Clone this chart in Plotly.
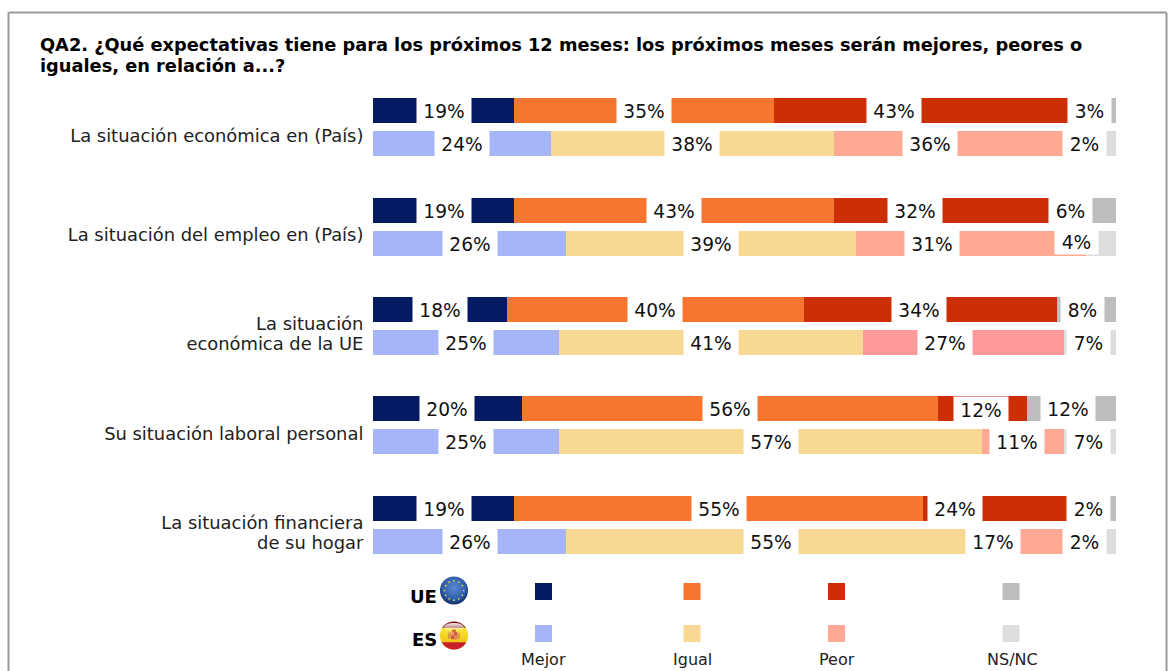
import base64, math
import plotly.graph_objects as go

# ---------- data ----------
TITLE_LINE_1 = "QA2. ¿Qué expectativas tiene para los próximos 12 meses: los próximos meses serán mejores, peores o"
TITLE_LINE_2 = "iguales, en relación a...?"
ROW_LABELS = [["La situación económica en (País)"], ["La situación del empleo en (País)"],
              ["La situación", "económica de la UE"], ["Su situación laboral personal"],
              ["La situación financiera", "de su hogar"]]
ANSWERS = ["Mejor", "Igual", "Peor", "NS/NC"]
EU_MEJOR = [19, 19, 18, 20, 19]
EU_IGUAL = [35, 43, 40, 56, 55]
EU_PEOR = [43, 32, 34, 12, 24]
EU_NSNC = [3, 6, 8, 12, 2]
ES_MEJOR = [24, 26, 25, 25, 26]
ES_IGUAL = [38, 39, 41, 57, 55]
ES_PEOR = [36, 31, 27, 11, 17]
ES_NSNC = [2, 4, 7, 7, 2]

# ---------- style / layout ----------
FONT = "DejaVu Sans, Verdana, sans-serif"
EU_COLORS = ["#061A64", "#F7762F", "#CC2E05", "#BDBDBD"]
ES_COLORS = ["#A6B4F8", "#F8D994", "#FFA894", "#DEDEDE"]
ES_PEOR_ALT = "#FF9A9A"   # third row uses a pinker tone
W, H = 1173, 671
L, R, T, B = 373, 1116, 91, 561
# pixel nudges of the value labels that avoid the chart's right edge
SHIFT_EU_PEOR = [-40, -38, -11.5, -1.5, -57]
SHIFT_ES_PEOR = [-37, -39, -18.5, -6, -45]
SHIFT_EU_NSNC = [-15.5, -23, -4, -3, -20]
SHIFT_ES_NSNC = [-24, -24.5, -2, -1.5, -24]


def px(x):
    return (x - L) / (R - L)


def py(y):
    return 1 - (y - T) / (B - T)


def interleave(a, b):
    out = []
    for u, v in zip(a, b):
        out += [u, v]
    return out


ypos = []
for r in range(5):
    ypos += [3 * r, 3 * r + 1]

fig = go.Figure()
eu = [EU_MEJOR, EU_IGUAL, EU_PEOR, EU_NSNC]
es = [ES_MEJOR, ES_IGUAL, ES_PEOR, ES_NSNC]
for i, name in enumerate(ANSWERS):
    cols = interleave([EU_COLORS[i]] * 5, [ES_COLORS[i]] * 5)
    if name == "Peor":
        cols[5] = ES_PEOR_ALT
    fig.add_trace(go.Bar(name=name, orientation="h", x=interleave(eu[i], es[i]), y=ypos,
                         width=0.755, marker=dict(color=cols, line=dict(width=0)),
                         showlegend=False))

anns = []


def label(value, x_center, y, xshift=0, yshift=-1, box_h=27):
    anns.append(dict(x=x_center, y=y, xref="x", yref="y", text=f"{value}%", showarrow=False,
                     bgcolor="#FFFFFF", width=54 if value >= 10 else 43, height=box_h,
                     borderpad=0, xshift=xshift, yshift=yshift, align="center",
                     font=dict(family=FONT, size=18.6, color="#111111")))


for r in range(5):
    for group, off, shifts in ((eu, 0, (SHIFT_EU_PEOR, SHIFT_EU_NSNC)), (es, 1, (SHIFT_ES_PEOR, SHIFT_ES_NSNC))):
        base = 0
        for i in range(4):
            v = group[i][r]
            s = shifts[i - 2][r] if i >= 2 else 0
            ys, bh = -1, 27
            if off == 0 and r == 3 and i == 2:   # box that sits low on its bar
                ys, bh = -2, 27
            if off == 1 and r == 1 and i == 3:   # box that sits high on its bar
                ys, bh = 1, 23
            label(v, base + v / 2, 3 * r + off, s, ys, bh)
            base += v

# legend block
swatch_x = [543.5, 692, 836.5, 1011]
shapes = []
for i, cx in enumerate(swatch_x):
    for cy, col in ((591.5, EU_COLORS[i]), (633.5, ES_COLORS[i])):
        shapes.append(dict(type="rect", xref="paper", yref="paper", layer="above",
                           x0=px(cx - 8.5), x1=px(cx + 8.5), y0=py(cy + 8.5), y1=py(cy - 8.5),
                           fillcolor=col, line=dict(width=0)))
    anns.append(dict(x=px(cx + (1 if i == 3 else 0)), y=py(659.5), xref="paper", yref="paper", text=ANSWERS[i],
                     showarrow=False, xanchor="center", yanchor="middle",
                     font=dict(family=FONT, size=16, color="#222222")))
for txt, cy in (("UE", 596), ("ES", 639)):
    anns.append(dict(x=px(438.5), y=py(cy), xref="paper", yref="paper", text=f"<b>{txt}</b>",
                     showarrow=False, xanchor="right", yanchor="middle",
                     font=dict(family=FONT, size=18, color="#000000")))

# second title line, placed apart to keep the reference's tight leading
anns.append(dict(x=px(38), y=py(65), xref="paper", yref="paper", text=f"<b>{TITLE_LINE_2}</b>",
                 showarrow=False, xanchor="left", yanchor="middle",
                 font=dict(family=FONT, size=17.8, color="#000000")))

# outer frame, open at the bottom
for x0, y0, x1, y1 in ((8.5, 12.5, 1166.5, 12.5), (8.5, 12.5, 8.5, 671), (1166.5, 12.5, 1166.5, 671)):
    shapes.append(dict(type="line", xref="paper", yref="paper", x0=px(x0), x1=px(x1), y0=py(y0), y1=py(y1),
                       line=dict(color="#9A9A9A", width=2)))

# flag icons
stars = "".join(
    f'<circle cx="{30 + 20 * math.cos(a * math.pi / 6):.1f}" cy="{30 + 20 * math.sin(a * math.pi / 6):.1f}" r="1.8" fill="#E8D84A"/>'
    for a in range(12))
EU_SVG = f'''<svg xmlns="http://www.w3.org/2000/svg" width="60" height="60" viewBox="0 0 60 60">
<defs><radialGradient id="g" cx="50%" cy="40%" r="60%"><stop offset="0" stop-color="#5a8ad0"/><stop offset="0.7" stop-color="#2f5cab"/><stop offset="1" stop-color="#0f2a63"/></radialGradient></defs>
<circle cx="30" cy="30" r="29" fill="url(#g)"/>{stars}</svg>'''
ES_SVG = '''<svg xmlns="http://www.w3.org/2000/svg" width="60" height="60" viewBox="0 0 60 60">
<defs><clipPath id="c"><circle cx="30" cy="30" r="29"/></clipPath>
<linearGradient id="y" x1="0" y1="0" x2="0" y2="1"><stop offset="0" stop-color="#f8f04a"/><stop offset="1" stop-color="#f0b800"/></linearGradient>
<linearGradient id="s" x1="0" y1="0" x2="0" y2="1"><stop offset="0" stop-color="#fff" stop-opacity="0.95"/><stop offset="1" stop-color="#fff" stop-opacity="0.1"/></linearGradient></defs>
<g clip-path="url(#c)"><rect width="60" height="60" fill="url(#y)"/><rect width="60" height="14" fill="#7a1020"/><rect y="44" width="60" height="16" fill="#c8202a"/></g>
<ellipse cx="30" cy="13" rx="21" ry="9" fill="url(#s)"/>
<rect x="23" y="22" width="14" height="16" rx="3" fill="#d0583e"/><rect x="23" y="22" width="7" height="8" fill="#e8a070"/><rect x="30" y="30" width="7" height="8" fill="#e08a50"/>
<rect x="18" y="24" width="3" height="13" fill="#d08a60"/><rect x="39" y="24" width="3" height="13" fill="#d08a60"/><rect x="26" y="18" width="8" height="4" fill="#d0583e"/>
</svg>'''


def b64(svg):
    return "data:image/svg+xml;base64," + base64.b64encode(svg.encode()).decode()


images = [dict(source=b64(svg), xref="paper", yref="paper", x=px(454), y=py(cy),
               sizex=29 / (R - L), sizey=29 / (B - T), xanchor="center", yanchor="middle",
               layer="above", sizing="stretch")
          for svg, cy in ((EU_SVG, 590.5), (ES_SVG, 635.5))]

# one tick per text line, so that two-line row labels keep the reference's leading
tick_vals, tick_text = [], []
for r, lines in enumerate(ROW_LABELS):
    for k, line in enumerate(lines):
        tick_vals.append(3 * r + 0.74 + (k - (len(lines) - 1) / 2) * 0.604)
        tick_text.append(line)

fig.update_layout(
    width=W, height=H, autosize=False, barmode="stack",
    paper_bgcolor="#FFFFFF", plot_bgcolor="#FFFFFF",
    margin=dict(l=L, r=W - R, t=T, b=H - B, pad=0),
    title=dict(text=f"<b>{TITLE_LINE_1}</b>", x=40 / W, xref="container", xanchor="left",
               y=1 - 45 / H, yref="container", yanchor="middle",
               font=dict(family=FONT, size=17.8, color="#000000")),
    xaxis=dict(range=[0, 100], visible=False, fixedrange=True),
    yaxis=dict(range=[13.6, -0.6], tickmode="array",
               tickvals=tick_vals, ticktext=tick_text,
               ticks="outside", ticklen=5, tickcolor="#FFFFFF", showgrid=False, zeroline=False,
               showline=False, fixedrange=True,
               tickfont=dict(family=FONT, size=17.9, color="#222222")),
    annotations=anns, shapes=shapes, images=images,
    hovermode=False,
)

fig.write_html("out.html", config=dict(displayModeBar=False),
               post_script="document.body.style.margin='0';document.body.style.overflow='hidden';")
